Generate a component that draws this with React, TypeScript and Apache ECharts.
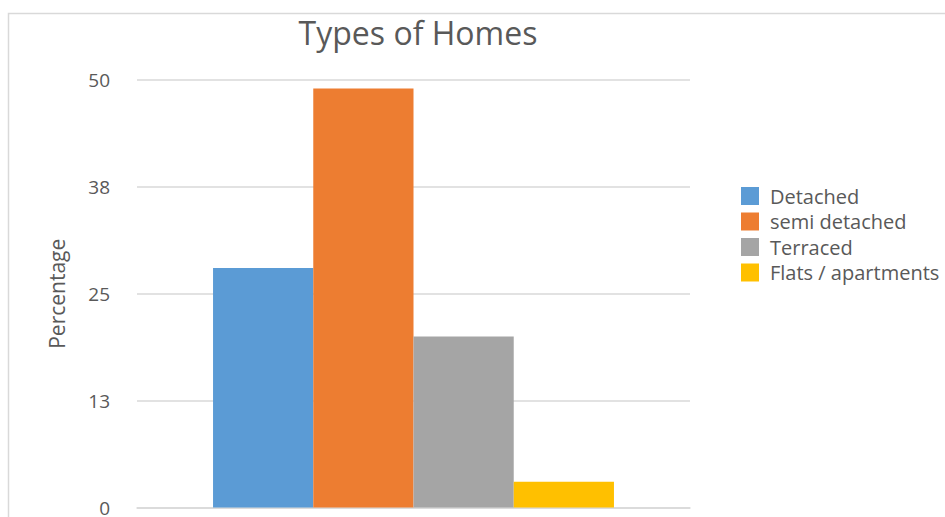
import React, { useEffect, useRef } from "react";
import * as echarts from "echarts";

const categories = ["Types of Homes"];
const seriesNames = ["Detached", "semi detached", "Terraced", "Flats / apartments"];
const seriesValues = [28, 49, 20, 3];
const seriesColors = ["#5B9BD5", "#ED7D31", "#A5A5A5", "#FFC000"];

const FONT = "'Open Sans', Lato, sans-serif";

export default function App() {
  const ref = useRef<HTMLDivElement>(null);
  useEffect(() => {
    if (!ref.current) return;
    const chart = echarts.init(ref.current, undefined, { renderer: "svg" });
    chart.setOption({
      animation: false,
      backgroundColor: "#ffffff",
      textStyle: { fontFamily: FONT },
      title: {
        text: "Types of Homes",
        left: 413,
        textAlign: "center",
        top: 11,
        textStyle: { fontFamily: FONT, fontSize: 32, fontWeight: "normal", color: "#595959" },
      },
      graphic: [
        {
          type: "rect",
          shape: { x: 8.5, y: 13.5, width: 1000, height: 600 },
          style: { fill: "none", stroke: "#D9D9D9", lineWidth: 1.5 },
          silent: true,
          z: -1,
        },
      ],
      legend: {
        orient: "vertical",
        left: 736,
        top: 181,
        itemWidth: 18,
        itemHeight: 18,
        itemGap: 5.5,
        icon: "rect",
        data: seriesNames,
        textStyle: {
          fontFamily: FONT,
          fontSize: 20,
          lineHeight: 20,
          color: "#595959",
          padding: [0, 0, 0, 6],
        },
      },
      grid: { left: 137, right: 255, top: 80, bottom: 5, containLabel: false },
      xAxis: {
        type: "category",
        data: categories,
        axisLine: { lineStyle: { color: "#D9D9D9", width: 1.5 } },
        axisTick: { show: false },
        axisLabel: { show: false },
      },
      yAxis: {
        type: "value",
        min: 0,
        max: 50,
        interval: 12.5,
        name: "Percentage",
        nameLocation: "middle",
        nameGap: 70,
        nameTextStyle: { fontFamily: FONT, fontSize: 21, color: "#595959" },
        axisLine: { show: false },
        axisTick: { show: false },
        axisLabel: {
          formatter: (v: number) => String(Math.round(v)),
          fontFamily: FONT,
          fontSize: 19,
          color: "#595959",
          margin: 27,
        },
        splitLine: { lineStyle: { color: "#D9D9D9", width: 1.5 } },
      },
      series: seriesNames.map((name, i) => ({
        name,
        type: "bar",
        data: [seriesValues[i]],
        itemStyle: { color: seriesColors[i] },
        barGap: "0%",
        barCategoryGap: "27.5%",
      })),
    });
    return () => chart.dispose();
  }, []);
  return (
    <div
      ref={ref}
      style={{ position: "fixed", left: 0, top: 0, width: 945, height: 517 }}
    />
  );
}
